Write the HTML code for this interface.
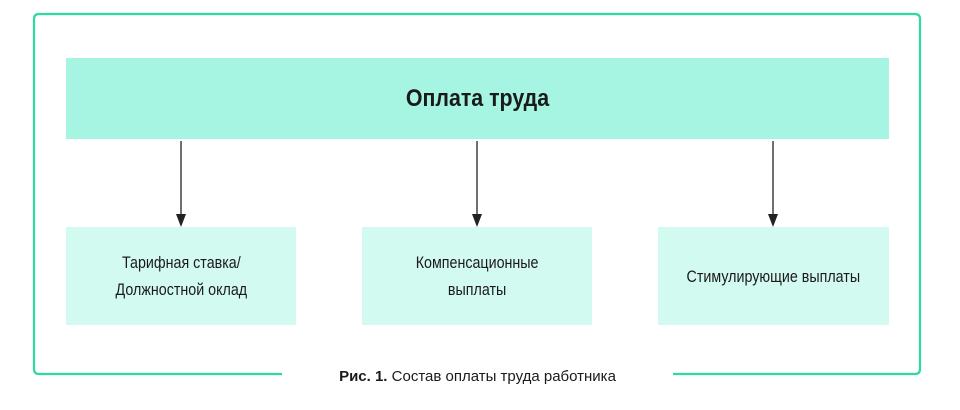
<!DOCTYPE html>
<html><head><meta charset="utf-8"><style>
body{margin:0;width:960px;height:410px;background:#fff;position:relative;overflow:hidden;font-family:"Liberation Sans",sans-serif;color:#1a1a1a}
.b{position:absolute;display:flex;align-items:center;justify-content:center;text-align:center}
.b span{display:inline-block;transform:scaleX(0.84);white-space:nowrap}
.top{left:66px;top:58px;width:823px;height:81px;background:#a5f5e2;font-weight:bold;font-size:24px}
.top span{transform:scaleX(0.89)}
.s{top:227px;width:230px;height:98px;background:#d3faf1;font-size:17px;line-height:27px}
</style></head><body>
<svg width="960" height="410" style="position:absolute;left:0;top:0">
<path d="M282 374 H39 Q34 374 34 369 V19 Q34 14 39 14 H915 Q920 14 920 19 V369 Q920 374 915 374 H673" fill="none" stroke="#2fd9a4" stroke-width="2.2"/>
<g stroke="#222" stroke-width="1.3">
<line x1="181" y1="141" x2="181" y2="216"/><line x1="477" y1="141" x2="477" y2="216"/><line x1="773" y1="141" x2="773" y2="216"/></g>
<g fill="#222"><polygon points="176,214 186,214 181,227"/><polygon points="472,214 482,214 477,227"/><polygon points="768,214 778,214 773,227"/></g>
</svg>
<div class="b top"><span>Оплата труда</span></div>
<div class="b s" style="left:66px"><span>Тарифная ставка/<br>Должностной оклад</span></div>
<div class="b s" style="left:362px"><span>Компенсационные<br>выплаты</span></div>
<div class="b s" style="left:658px;width:231px"><span>Стимулирующие выплаты</span></div>
<div class="b" style="left:282px;width:391px;top:366px;height:20px;font-size:15px"><b>Рис. 1.</b>&nbsp;Состав оплаты труда работника</div>
</body></html>
